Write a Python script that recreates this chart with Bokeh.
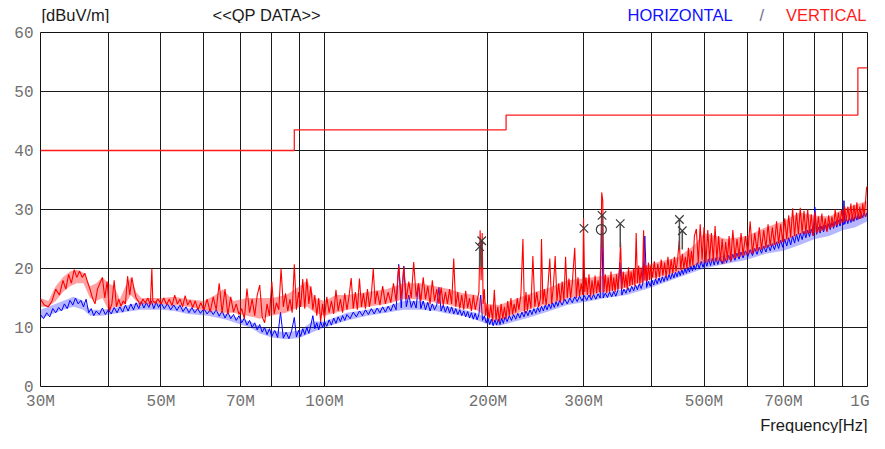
from bokeh.plotting import figure
from bokeh.layouts import column
from bokeh.models import FixedTicker, Range1d, Title
from bokeh.core.properties import value
from bokeh.embed import file_html
from bokeh.resources import INLINE

# ---------------- data (frequency in MHz, level in dBuV/m) ----------------
FREQ_TICKS = [30, 40, 50, 60, 70, 80, 90, 100, 200, 300, 400, 500, 600, 700, 800, 900, 1000]
FREQ_TICK_LABELS = {30: "30M", 50: "50M", 70: "70M", 100: "100M", 200: "200M",
                    300: "300M", 500: "500M", 700: "700M", 1000: "1G"}
LEVEL_TICKS = [0, 10, 20, 30, 40, 50, 60]

LIMIT_FREQ = [30, 88, 216, 960, 1000]
LIMIT_LEVEL = [40, 43.5, 46, 54, 54]

VERTICAL_TRACE = [
    (30, 14.8), (30.5, 13.8), (31, 13.5), (31.5, 14.5), (32, 16.5), (32.5, 15.5), (33, 18), (33.4, 16.5),
    (33.8, 19), (34.2, 17.5), (34.6, 19.8), (35, 18.5), (35.4, 19.6), (35.8, 18.5), (36.2, 19.2), (36.6, 17.8),
    (37, 16.5), (37.4, 15), (37.8, 14), (38.2, 16.5), (38.6, 17.5), (39, 18.5), (39.4, 15), (39.8, 17.8),
    (40.2, 12.8), (40.6, 14), (41, 18), (41.4, 13.5), (41.8, 14.8), (42.2, 13.6), (42.6, 14.5), (43, 14),
    (43.4, 18.7), (43.8, 15.5), (44.2, 18.5), (44.6, 16.5), (45, 15), (45.4, 14.5), (45.8, 13.8), (46.3, 14.8),
    (46.8, 14.2), (47.3, 15), (47.8, 13.8), (48.1, 20), (48.3, 14.5), (48.8, 14.2), (49.4, 14.8), (50, 14),
    (50.6, 15), (51.2, 13.9), (51.8, 14.8), (52.4, 13.7), (53, 15.5), (53.6, 14), (54.2, 14.8), (54.8, 13.5),
    (55.4, 15.4), (56, 13.8), (56.6, 14.6), (57.2, 13.4), (57.8, 14.5), (58.5, 13), (59.2, 14.2), (60, 12.9),
    (60.8, 14.8), (61.6, 12.6), (62.4, 15.2), (63.2, 13), (64, 17.5), (64.8, 12.5), (65.6, 16.5), (66.4, 12.2),
    (67.2, 15.2), (68, 12.6), (68.8, 14), (69.6, 12.2), (70.4, 13.2), (71.2, 11.5), (72, 16.6), (72.8, 12.5),
    (73.6, 14.8), (74.4, 12), (75.2, 15.5), (76, 17.2), (76.8, 11.8), (77.6, 10.8), (78.4, 14), (79.2, 12),
    (80, 17.8), (80.8, 12.3), (81.6, 14.2), (82.4, 13), (83.2, 20), (84, 13.5), (84.8, 15.8), (85.6, 12.8),
    (86.4, 14.8), (87.2, 12.5), (88, 20.7), (88.8, 13), (89.6, 16), (90.4, 13.5), (91.2, 18.2), (92, 13.2),
    (92.8, 18.3), (93.6, 14), (94.4, 17), (95.2, 13), (96, 15.5), (96.8, 12), (97.6, 15), (98.4, 11),
    (99.2, 14), (100, 11.5), (101, 15.2), (102, 12.5), (103, 14.5), (104, 12.3), (105, 16.4), (106, 12.8),
    (107, 14.8), (108, 12.5), (109, 15.8), (110, 13), (111, 15.3), (112, 18.4), (113, 13.2), (114, 16),
    (115, 13), (116, 18.3), (117, 13.5), (118, 15.8), (119, 13.2), (120, 16.5), (121, 13.5), (122, 15.5),
    (123, 20), (124, 14), (125, 16.2), (126.5, 13.8), (128, 17), (129.5, 14), (131, 16), (132.5, 14.2),
    (134, 17.5), (135.5, 14.5), (137, 20.5), (138.5, 15), (140, 20.3), (141.5, 14.8), (143, 17.8), (144.5, 15),
    (146, 21.1), (147.5, 15.2), (149, 17.5), (150.5, 14.5), (152, 18.5), (153.5, 14.8), (155, 17), (156.5, 14),
    (158, 18), (159.5, 14.5), (161, 16.5), (162.5, 14), (164, 16.8), (165.5, 13.8), (167, 16), (168.5, 14),
    (170, 16.5), (171.5, 14), (173, 21.7), (174.5, 13.5), (176, 16), (177.5, 13.2), (179, 15.5), (180.5, 13),
    (182, 16.2), (183.5, 13.3), (185, 15), (186.5, 12.8), (188, 15.5), (189.5, 13), (191, 14.5), (192.5, 16),
    (193.5, 26.5), (194.3, 18), (195.2, 26), (196, 14), (197, 16.5), (198, 12), (199.5, 14), (201, 11.5),
    (202.5, 13.8), (204, 11), (205.5, 16.4), (207, 11.2), (208.5, 13.5), (210, 11), (211.5, 14), (213, 11.5),
    (214.5, 13.5), (216, 11.5), (217.5, 14.5), (219, 12), (220.5, 15), (222, 12.2), (223.5, 14), (225, 12.5),
    (226.5, 15), (228, 13), (230, 15.5), (232, 25), (233.5, 12.5), (235, 16), (236.5, 12.8), (238, 15.5),
    (240, 13.2), (242, 22.1), (244, 13.5), (246, 16), (248, 13.5), (250, 15), (251, 25), (252.5, 14),
    (254, 16.5), (256, 13.8), (258, 17), (260, 21.7), (262, 14), (264, 17), (266, 22.1), (268, 14.5),
    (270, 17.5), (272, 14.2), (274, 17.8), (276, 14.5), (278, 22), (280, 15), (282, 18.3), (284, 15),
    (286, 17.5), (289, 23.5), (291, 15), (293, 18.5), (295, 15.3), (297, 17.5), (299, 15.5), (300, 28.5),
    (301.5, 16), (303, 18.5), (305, 15.5), (307, 19), (309, 15.2), (311, 18), (313, 15.5), (315, 18.8),
    (317, 15.8), (319, 18), (321, 16), (323, 22), (324, 32.9), (325.5, 31.5), (327, 16), (329, 19),
    (331, 15.8), (333, 18.5), (335, 16), (337, 19.5), (339, 16.2), (341, 18.5), (343, 16), (345, 19),
    (347, 16.5), (349, 18.8), (351, 24.4), (353, 16.5), (355, 19.5), (357, 16.8), (359, 19), (361, 16.5),
    (363, 20.2), (365, 17), (367, 19.5), (369, 17.2), (371, 20), (373, 17), (375, 26), (377, 17.5),
    (379, 20.5), (381, 17.3), (383, 20), (385, 17.5), (387, 26.5), (389, 18), (391, 20.5), (393, 17.8),
    (395, 21), (397, 18), (399, 20.5), (402, 18.5), (405, 21.2), (408, 18.2), (411, 20.8), (414, 18.5),
    (417, 21.5), (420, 18.8), (423, 21), (426, 18.5), (429, 22), (432, 19), (435, 21.5), (438, 19.2),
    (441, 22), (444, 19.5), (447, 21.5), (450, 24.7), (453, 19.8), (456, 22.5), (459, 20), (462, 22),
    (465, 20), (468, 23.5), (471, 20.2), (474, 23), (477, 20.5), (480, 25.5), (484, 26.7), (488, 21),
    (492, 27.5), (496, 21.5), (500, 27), (504, 21), (508, 26.5), (512, 21.5), (516, 26), (520, 21.3),
    (524, 27.2), (528, 21.5), (532, 25.5), (536, 21.2), (540, 25), (544, 20.8), (548, 24.5), (552, 21.5),
    (556, 25.5), (560, 21.2), (565, 26.5), (570, 21.8), (575, 25), (580, 22), (585, 26), (590, 22.3),
    (596, 25.5), (602, 22.5), (608, 28), (614, 22.5), (620, 26), (626, 23), (632, 27), (638, 23.2),
    (644, 26.5), (650, 23.5), (656, 27.5), (662, 23.8), (668, 27), (674, 24), (680, 28), (686, 24.2),
    (692, 27.5), (698, 24.5), (704, 28.5), (710, 25), (716, 29), (722, 25.3), (728, 30.2), (734, 25.5),
    (740, 29.5), (746, 25.8), (752, 30.3), (758, 26), (764, 29.8), (770, 25.8), (776, 30), (782, 26),
    (788, 29.2), (794, 25.5), (800, 29.6), (806, 26), (812, 28.8), (818, 26.2), (824, 29.3), (830, 26.5),
    (836, 28.5), (842, 26.2), (848, 29), (854, 26.8), (860, 28.8), (866, 27), (872, 30), (878, 27.3),
    (884, 29.5), (890, 27.5), (896, 30), (902, 27.8), (908, 30.5), (914, 28), (920, 30.5), (926, 28.2),
    (932, 31), (938, 28), (944, 30.8), (950, 28.5), (956, 31.2), (962, 28.3), (968, 30.5), (974, 28.5),
    (980, 31), (986, 29), (992, 31.5), (996, 33.7), (1000, 34),
]

HORIZONTAL_TRACE = [
    (30, 12.2), (30.4, 11.5), (30.8, 12.5), (31.2, 11.8), (31.6, 13.2), (32, 12.5), (32.4, 13.4), (32.8, 12.8),
    (33.2, 14), (33.6, 13.2), (34, 14.6), (34.4, 13.8), (34.8, 15), (35.2, 14), (35.6, 14.6), (36, 13.5),
    (36.4, 14.8), (36.8, 12.5), (37.2, 13.2), (37.6, 12), (38, 12.8), (38.5, 12.2), (39, 13.3), (39.5, 12.2),
    (40, 13), (40.5, 12.3), (41, 13.4), (41.5, 12.5), (42, 13.5), (42.5, 12.6), (43, 13.8), (43.5, 12.8),
    (44, 14), (44.5, 13), (45, 14.2), (45.5, 13.2), (46, 14.4), (46.5, 13.3), (47, 14.2), (47.5, 13.4),
    (48, 14.5), (48.5, 13.2), (49, 14.3), (49.5, 13.4), (50, 14.2), (50.7, 13.2), (51.4, 14), (52.1, 13),
    (52.8, 13.8), (53.5, 12.9), (54.2, 13.8), (54.9, 12.7), (55.6, 13.5), (56.3, 12.5), (57, 13.4), (57.7, 12.5),
    (58.4, 13.2), (59.1, 12.4), (60, 13.2), (60.8, 12.3), (61.6, 13), (62.4, 12.2), (63.2, 13), (64, 11.9),
    (64.8, 12.8), (65.6, 11.6), (66.4, 12.6), (67.2, 11.5), (68, 12.2), (68.8, 11.2), (69.6, 12), (70.4, 10.8),
    (71.2, 11.6), (72, 10.4), (72.8, 11.2), (73.6, 10), (74.4, 10.8), (75.2, 9.6), (76, 10.5), (76.8, 9.2),
    (77.6, 10), (78.4, 8.8), (79.2, 9.8), (80, 8.5), (81, 9.5), (82, 8.3), (83, 12.6), (84, 8.2),
    (85, 9.2), (86, 8.1), (87, 9.4), (88, 11.7), (88.8, 8.4), (89.6, 9.5), (90.4, 8.5), (91.2, 9.8),
    (92, 8.8), (92.8, 10), (93.6, 9), (94.4, 10.4), (95.2, 12), (96, 9.8), (96.8, 10.8), (97.6, 9.6),
    (98.4, 11), (99.2, 10), (100, 11), (101, 10.2), (102, 11.3), (103, 10.4), (104, 11.6), (105, 10.7),
    (106, 11.8), (107, 11), (108, 12), (109, 11.2), (110, 12.2), (111.5, 11.5), (113, 12.6), (114.5, 11.8),
    (116, 12.8), (117.5, 12), (119, 13), (120.5, 12.2), (122, 13.2), (123.5, 12.3), (125, 13.3), (126.5, 12.5),
    (128, 13.5), (129.5, 12.6), (131, 13.6), (132.5, 12.8), (134, 14), (135.5, 13), (137, 20.7), (138.5, 13.3),
    (140, 20.4), (141.5, 13.5), (143, 15.5), (144.5, 13.4), (146, 14.5), (147.5, 13.3), (149, 17.3), (150.5, 13.2),
    (152, 14.5), (153.5, 13), (155, 14.3), (156.5, 12.8), (158, 14), (159.5, 13), (161, 13.8), (162.5, 16.8),
    (164, 12.8), (165.5, 13.8), (167, 12.6), (168.5, 13.6), (170, 12.5), (171.5, 13.5), (173, 12.3), (174.5, 13.2),
    (176, 12.2), (177.5, 13), (179, 12), (180.5, 12.8), (182, 11.8), (183.5, 12.7), (185, 11.6), (186.5, 12.5),
    (188, 11.4), (189.5, 12.4), (191, 11.3), (192.5, 12.2), (194, 15.5), (195.5, 11.2), (197, 12), (198.5, 10.8),
    (200, 11.6), (201.5, 10.5), (203, 11.4), (204.5, 10.3), (206, 11.3), (207.5, 10.4), (209, 11.4), (210.5, 10.5),
    (212, 11.6), (213.5, 10.7), (215, 11.8), (217, 11), (219, 12), (221, 11.2), (223, 12.2), (225, 11.4),
    (227, 12.4), (229, 11.6), (231, 12.6), (233, 11.8), (235, 12.8), (237, 12), (239, 13), (241, 12.2),
    (243, 13.2), (245, 12.4), (247, 13.4), (249, 12.6), (251, 13.6), (253, 12.8), (255, 13.8), (257, 13),
    (259, 14), (261, 13.2), (263, 14.2), (265, 13.4), (267, 14.4), (269, 13.6), (271, 14.6), (274, 13.8),
    (277, 14.8), (280, 14), (283, 15), (286, 14.2), (289, 15.2), (292, 14.4), (295, 15.3), (298, 14.5),
    (301, 15.4), (304, 14.6), (307, 15.5), (310, 14.7), (313, 15.6), (316, 14.8), (319, 15.7), (322, 15),
    (324, 29), (326, 15), (329, 15.8), (332, 15.1), (335, 16), (338, 15.2), (341, 16.1), (344, 15.3),
    (347, 16.3), (350, 21), (353, 15.5), (356, 16.5), (359, 15.8), (362, 16.8), (365, 16), (368, 17),
    (371, 16.2), (374, 17.2), (377, 16.4), (380, 17.4), (383, 16.6), (386, 17.6), (389, 25.5), (392, 16.8),
    (395, 17.8), (398, 17), (401, 18), (404, 17.2), (407, 18.2), (410, 17.4), (413, 18.4), (416, 17.6),
    (419, 18.6), (422, 17.8), (425, 18.8), (428, 18), (431, 19), (434, 18.2), (437, 19.2), (440, 18.4),
    (443, 19.4), (446, 18.6), (449, 19.6), (452, 18.8), (455, 19.8), (458, 19), (461, 20), (464, 19.2),
    (467, 20.2), (470, 19.4), (473, 20.4), (476, 19.6), (479, 20.6), (482, 19.8), (486, 21), (490, 20),
    (494, 21.2), (498, 20.2), (502, 21.4), (506, 20.4), (510, 21.6), (514, 20.5), (518, 21.7), (522, 20.6),
    (526, 21.8), (530, 20.7), (535, 21.9), (540, 20.8), (545, 22), (550, 21), (555, 22.2), (560, 21.2),
    (565, 22.4), (570, 21.4), (575, 22.6), (580, 21.6), (585, 22.8), (590, 21.8), (596, 23), (602, 22),
    (608, 23.2), (614, 22.2), (620, 23.4), (626, 22.4), (632, 23.6), (638, 22.6), (644, 23.8), (650, 22.8),
    (656, 24), (662, 23), (668, 24.2), (674, 23.2), (680, 24.5), (686, 23.4), (692, 24.8), (698, 23.6),
    (704, 25), (710, 23.8), (716, 25.2), (722, 24), (728, 25.5), (734, 24.3), (740, 25.8), (746, 24.6),
    (752, 26), (758, 24.9), (764, 26.3), (770, 25.2), (776, 26.5), (782, 25.4), (788, 26.7), (794, 25.6),
    (800, 30.4), (806, 25.8), (812, 27), (818, 26), (824, 27.2), (830, 26.2), (836, 27.4), (842, 26.4),
    (848, 27.6), (854, 26.6), (860, 27.8), (866, 26.8), (872, 28), (878, 27), (884, 28.2), (890, 27.2),
    (896, 28.4), (902, 27.4), (905, 31.5), (908, 27.5), (914, 28.6), (920, 27.6), (926, 28.8), (932, 27.8),
    (938, 29), (944, 28), (950, 29.2), (956, 28.2), (962, 29.3), (968, 28.4), (974, 29.4), (980, 28.6),
    (986, 29.5), (992, 28.8), (1000, 29.6),
]

# spread (min / max) of the dense sweeps
VERTICAL_BAND = [
    (30, 13.5, 15), (31, 13.5, 14.5), (32, 14.5, 17), (33, 16, 18.5), (34, 17, 19.5), (35, 17.5, 19.8),
    (36, 17.5, 19.3), (37, 15, 17), (38, 14.5, 17.5), (39, 15, 18.5), (40, 13, 17.5), (41, 13.5, 17),
    (42, 13.5, 14.8), (43, 14, 17), (44, 15.5, 18.5), (45, 14.5, 16), (46, 14, 15), (48, 14, 15),
    (50, 14, 15), (53, 13.8, 15.2), (56, 13.5, 14.8), (60, 13, 14.5), (63, 12.8, 15.5), (65, 12.5, 16.5),
    (68, 12.5, 14.5), (72, 12, 15), (76, 11.5, 15), (80, 12, 15), (85, 12.5, 15.5), (90, 13.5, 17),
    (93, 13.5, 18), (96, 12.5, 15), (100, 12, 14.5), (105, 12.5, 15.5), (110, 13, 15.5), (120, 13.5, 16),
    (130, 14, 16.5), (140, 14.8, 17.5), (150, 14.8, 17.5), (160, 14.2, 17), (170, 13.8, 16.5),
    (180, 13.2, 15.8), (190, 13, 15.5), (200, 11.8, 14), (210, 11.3, 13.8), (220, 12, 14.5),
    (240, 13.2, 15.8), (260, 14, 16.8), (280, 15, 18), (300, 15.5, 18.3), (330, 16, 18.8),
    (360, 16.8, 19.5), (400, 18.2, 20.8), (450, 19.5, 22), (480, 20.5, 24), (500, 21, 26),
    (550, 21.3, 25), (600, 22.3, 25.5), (650, 23.5, 27), (700, 24.5, 28), (750, 25.8, 29.5),
    (800, 26, 29), (850, 26.8, 28.8), (900, 27.8, 30), (950, 28.3, 30.8), (1000, 28.8, 31.5),
]
HORIZONTAL_BAND = [
    (30, 11.5, 13), (31, 12, 13.5), (33, 13, 14.5), (34.5, 13.5, 15.2), (36, 13, 14.5), (37, 12, 13),
    (39, 12, 13), (42, 12.5, 13.5), (46, 13, 14.3), (50, 13, 14), (53, 12.8, 13.8), (56, 12.3, 13.2),
    (61, 12, 13), (66, 11.3, 12.3), (70, 10.5, 11.5), (73, 10, 11), (76, 9, 10.2), (80, 8.3, 9.5),
    (85, 8, 9.2), (90, 8.2, 9.5), (95, 9.2, 11), (100, 10, 11), (110, 11.2, 12.5), (120, 12, 13),
    (130, 12.5, 13.5), (140, 13, 14.5), (150, 13, 14.5), (160, 12.8, 13.8), (170, 12.3, 13.5),
    (180, 12, 13), (190, 11.3, 12.5), (200, 10.5, 11.5), (210, 10.3, 11.5), (220, 10.8, 12),
    (240, 11.8, 13), (260, 12.8, 14), (280, 13.8, 15), (300, 14.3, 15.5), (330, 15, 16), (360, 15.5, 16.5),
    (400, 16.8, 18), (450, 18.5, 19.5), (500, 20, 21.5), (550, 20.8, 22.3), (600, 21.5, 23),
    (650, 22.5, 24), (700, 23, 25), (750, 24, 26), (800, 25, 27), (850, 25.5, 27.5), (900, 26.5, 28),
    (950, 27, 28.5), (1000, 28, 29.5),
]

QP_X_FREQ = [193.1, 194.8, 300.5, 324.5, 350.5, 450.5, 456]
QP_X_LEVEL = [23.7, 24.7, 26.8, 29.0, 27.6, 28.3, 26.4]
QP_O_FREQ = [323.5]
QP_O_LEVEL = [26.6]
STEM_FREQ = [193.1, 194.8, 324.5, 350.5, 450.5, 456]
STEM_TOP = [23.7, 24.7, 29.0, 27.6, 28.3, 26.4]
STEM_BOTTOM = [20.2, 20.2, 23.6, 23.6, 23.2, 23.2]

HEADER_TEXTS = ["[dBuV/m]", "<<QP DATA>>", "HORIZONTAL", "/", "VERTICAL"]
HEADER_COLORS = ["#1a1a1a", "#1a1a1a", "#1010ff", "#6e7090", "#ff1a1a"]
AXIS_TITLE = "Frequency[Hz]"

W = 869
HEADER_H = 23
MAIN_H = 433 - HEADER_H
SANS = value("Liberation Sans")

# ---------------- header strip (text only, frame aligned with the chart) ----------------
header = figure(width=W, height=HEADER_H, x_range=Range1d(40, 867), y_range=Range1d(0, HEADER_H),
                output_backend="svg", toolbar_location=None, x_axis_location=None,
                y_axis_location=None, outline_line_color=None,
                min_border_left=0, min_border_right=0, min_border_top=0, min_border_bottom=0)
header.grid.visible = False
header.text(x=[41, 212, 627, 759, 866], y=[8.2] * 5, text=HEADER_TEXTS, text_color=HEADER_COLORS,
            text_align=["left", "left", "left", "left", "right"], text_baseline="alphabetic",
            text_font=SANS, text_font_size="16.5px")

# ---------------- main chart ----------------
p = figure(width=W, height=MAIN_H, x_axis_type="log", x_range=(30, 1000), y_range=(0, 60),
           output_backend="svg", toolbar_location=None,
           min_border_left=40, min_border_right=2, min_border_top=9, min_border_bottom=40)
p.background_fill_color = "white"
p.border_fill_color = "white"
p.outline_line_color = "#111111"
p.outline_line_width = 1
p.outline_line_alpha = 1

p.xaxis.ticker = FixedTicker(ticks=FREQ_TICKS)
p.xaxis.major_label_overrides = {t: FREQ_TICK_LABELS.get(t, "") for t in FREQ_TICKS}
p.yaxis.ticker = FixedTicker(ticks=LEVEL_TICKS)
for ax in (p.xaxis, p.yaxis):
    ax.axis_line_color = None
    ax.major_tick_line_color = None
    ax.minor_tick_line_color = None
    ax.major_tick_out = 0
    ax.major_tick_in = 0
    ax.major_label_text_font = "Liberation Mono"
    ax.major_label_text_font_size = "16px"
    ax.major_label_text_color = "#707070"
p.xaxis.major_label_standoff = 6
p.yaxis.major_label_standoff = 7

p.add_layout(Title(text=AXIS_TITLE, align="right", text_font="Liberation Sans",
                   text_font_size="16.5px", text_font_style="normal", text_color="#1a1a1a",
                   standoff=0, offset=0), "below")

p.xgrid.ticker = FixedTicker(ticks=FREQ_TICKS)
p.ygrid.ticker = FixedTicker(ticks=LEVEL_TICKS)
for g in (p.xgrid, p.ygrid):
    g.grid_line_color = "#1a1a1a"
    g.grid_line_alpha = 1
    g.grid_line_width = 1

p.varea(x=[b[0] for b in HORIZONTAL_BAND], y1=[b[1] for b in HORIZONTAL_BAND],
        y2=[b[2] for b in HORIZONTAL_BAND], fill_color="#3030ff", fill_alpha=0.35)
p.line([t[0] for t in HORIZONTAL_TRACE], [t[1] for t in HORIZONTAL_TRACE],
       line_color="#0000ff", line_width=1)

p.varea(x=[b[0] for b in VERTICAL_BAND], y1=[b[1] for b in VERTICAL_BAND],
        y2=[b[2] for b in VERTICAL_BAND], fill_color="#ff2020", fill_alpha=0.42)
p.line([t[0] for t in VERTICAL_TRACE], [t[1] for t in VERTICAL_TRACE],
       line_color="#ff0000", line_width=1.1)

p.step(LIMIT_FREQ, LIMIT_LEVEL, mode="after", line_color="#ff1a1a", line_width=1.3)

p.segment(x0=STEM_FREQ, y0=STEM_BOTTOM, x1=STEM_FREQ, y1=STEM_TOP,
          line_color="#505050", line_width=1.5)
p.scatter(QP_X_FREQ, QP_X_LEVEL, marker="x", size=12, line_color="#3a3a3a", line_width=1.2)
p.scatter(QP_O_FREQ, QP_O_LEVEL, marker="circle", size=10, fill_color=None,
          line_color="#3a3a3a", line_width=1.2)

layout = column(header, p, spacing=0)
open("out.html", "w").write(file_html(layout, INLINE))
